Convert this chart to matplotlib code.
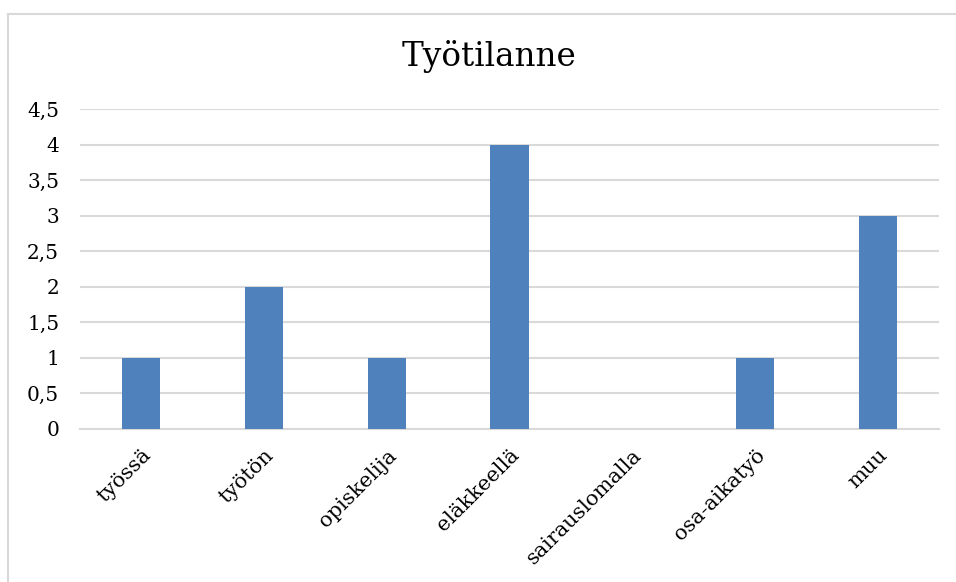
import matplotlib.pyplot as plt
from matplotlib.lines import Line2D
import numpy as np

plt.rcParams['font.family'] = ['DejaVu Serif']

categories = ['työssä', 'työtön', 'opiskelija', 'eläkkeellä', 'sairauslomalla', 'osa-aikatyö', 'muu']
counts = [1, 2, 1, 4, 0, 1, 3]
yticks = [0, 0.5, 1, 1.5, 2, 2.5, 3, 3.5, 4, 4.5]
ytick_labels = ['0', '0,5', '1', '1,5', '2', '2,5', '3', '3,5', '4', '4,5']

fig = plt.figure(figsize=(9.56, 5.82), dpi=100)
ax = fig.add_axes([0.0837, 0.2629, 0.8985, 0.5498])

x = np.arange(len(categories))
ax.bar(x, counts, width=0.31, color='#4F81BD', zorder=3)

ax.set_xlim(-0.5, len(categories) - 0.5)
ax.set_ylim(0, 4.5)
ax.set_yticks(yticks)
ax.set_yticklabels(ytick_labels, fontsize=14.5)
ax.set_xticks(x)
ax.set_xticklabels(categories, fontsize=15, rotation=45, ha='right', rotation_mode='anchor')
ax.tick_params(axis='both', length=0)
ax.tick_params(axis='y', pad=15)
ax.tick_params(axis='x', pad=12)
ax.grid(axis='y', color='#D9D9D9', linewidth=1.5, zorder=0)
for s in ['top', 'right', 'left']:
    ax.spines[s].set_visible(False)
ax.spines['bottom'].set_color('#D9D9D9')
ax.spines['bottom'].set_linewidth(1.5)

fig.text(0.511, 0.903, 'Työtilanne', fontsize=23.5, ha='center', va='center')

# chart frame (cut off at right and bottom)
fig.add_artist(Line2D([8 / 956, 8 / 956], [0, 1 - 14 / 582], color='#D9D9D9', linewidth=1.5))
fig.add_artist(Line2D([8 / 956, 1], [1 - 14 / 582, 1 - 14 / 582], color='#D9D9D9', linewidth=1.5))

fig.savefig('out.png', dpi=100)
